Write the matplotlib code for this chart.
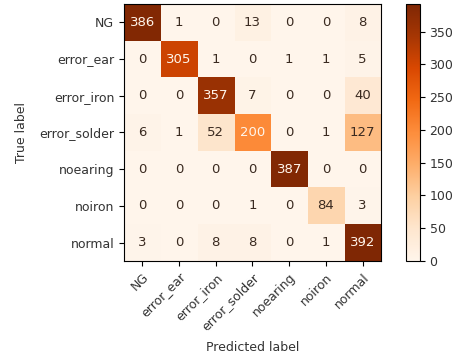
import numpy as np
import matplotlib.pyplot as plt

labels = ['NG', 'error_ear', 'error_iron', 'error_solder', 'noearing', 'noiron', 'normal']
cm = np.array([
    [386, 1, 0, 13, 0, 0, 8],
    [0, 305, 1, 0, 1, 1, 5],
    [0, 0, 357, 7, 0, 0, 40],
    [6, 1, 52, 200, 0, 1, 127],
    [0, 0, 0, 0, 387, 0, 0],
    [0, 0, 0, 1, 0, 84, 3],
    [3, 0, 8, 8, 0, 1, 392],
])

plt.rcParams['font.size'] = 9
plt.rcParams['text.color'] = '#333333'
plt.rcParams['axes.labelcolor'] = '#333333'
plt.rcParams['xtick.labelcolor'] = '#333333'
plt.rcParams['ytick.labelcolor'] = '#333333'
fig = plt.figure(figsize=(4.57, 3.64), dpi=100)
ax = fig.add_axes([0.2713, 0.283, 0.5624, 0.706])
cax = fig.add_axes([0.888, 0.283, 0.0306, 0.706])

cmap = plt.get_cmap('Oranges')
im = ax.imshow(cm, cmap=cmap, interpolation='nearest', aspect='auto')
cb = fig.colorbar(im, cax=cax)
cb.set_ticks(range(0, 351, 50))

thresh = (cm.max() + cm.min()) / 2.0
for i in range(cm.shape[0]):
    for j in range(cm.shape[1]):
        color = cmap(0.0) if cm[i, j] > thresh else '#3a2a20'
        ax.text(j, i, str(cm[i, j]), ha='center', va='center', color=color, fontsize=9.5)

ax.set_xticks(range(len(labels)))
ax.set_yticks(range(len(labels)))
ax.set_xticklabels(labels, rotation=45, ha='right', rotation_mode='anchor')
ax.set_yticklabels(labels)
ax.set_xlabel('Predicted label', labelpad=6)
ax.set_ylabel('True label', labelpad=8)

fig.savefig('out.png', dpi=100)
